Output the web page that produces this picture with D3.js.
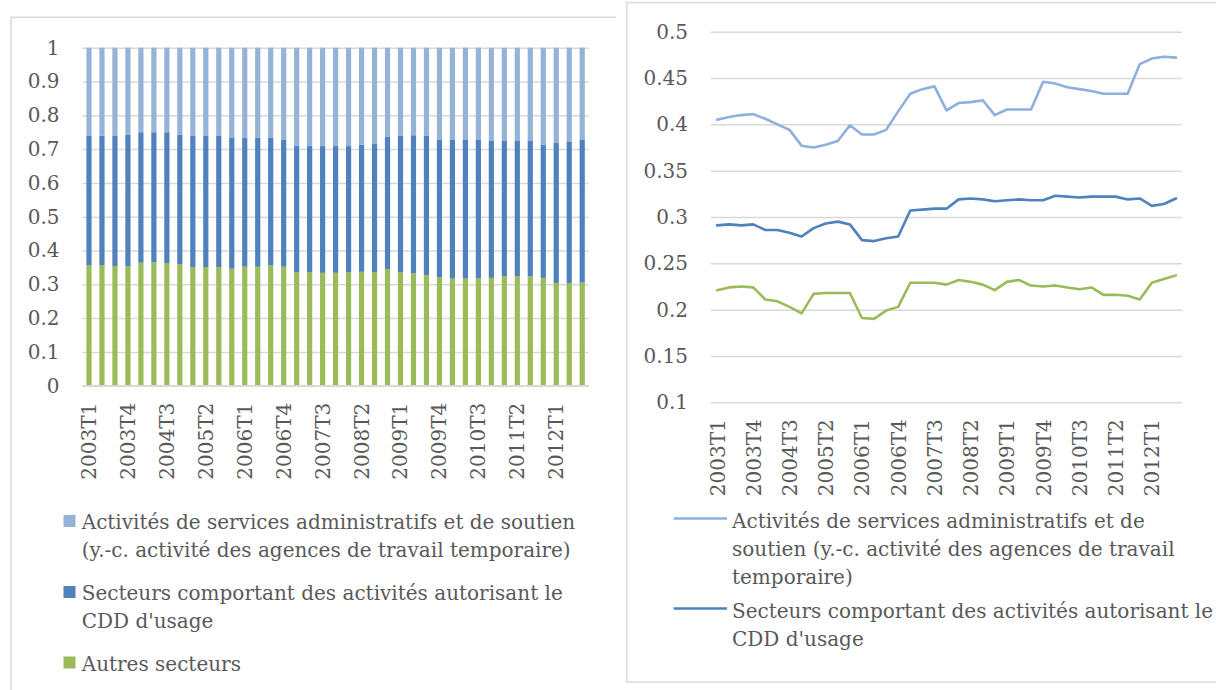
<!DOCTYPE html>
<html>
<head>
<meta charset="utf-8">
<script src="https://cdn.jsdelivr.net/npm/d3@7"></script>
<style>
  html, body { margin: 0; padding: 0; background: #fff; }
  svg { display: block; }
  text { font-family: "DejaVu Serif", "Liberation Serif", serif; fill: #595959; }
</style>
</head>
<body>
<svg id="chart" width="1216" height="690"></svg>
<script>
// ---------- DATA ----------
const quarters = [];
for (let y = 2003; y <= 2012; y++) for (let q = 1; q <= 4; q++) quarters.push(y + "T" + q);
const categories = quarters.slice(0, 39); // 2003T1 .. 2012T3

const tickLabels = ["2003T1","2003T4","2004T3","2005T2","2006T1","2006T4","2007T3","2008T2","2009T1","2009T4","2010T3","2011T2","2012T1"];

// Left chart: composition (shares summing to 1)
const barAutres = [0.356,0.356,0.354,0.353,0.364,0.365,0.363,0.359,0.351,0.351,0.351,0.346,0.352,0.352,0.356,0.352,0.336,0.336,0.334,0.334,0.336,0.337,0.336,0.345,0.335,0.332,0.327,0.320,0.317,0.317,0.317,0.319,0.324,0.324,0.323,0.319,0.304,0.304,0.305];
const barCumCDD = [0.739,0.739,0.739,0.742,0.750,0.750,0.750,0.742,0.739,0.739,0.739,0.733,0.733,0.733,0.733,0.727,0.709,0.709,0.709,0.709,0.709,0.713,0.715,0.736,0.739,0.741,0.739,0.727,0.727,0.727,0.727,0.724,0.724,0.724,0.724,0.712,0.718,0.721,0.727];
const barCDD = barCumCDD.map((v, i) => +(v - barAutres[i]).toFixed(3));
const barAdmin = barCumCDD.map(v => +(1 - v).toFixed(3));

// Right chart: lines
const lineAdmin = [0.405,0.408,0.410,0.411,0.406,0.400,0.394,0.377,0.375,0.378,0.382,0.399,0.389,0.389,0.394,0.414,0.433,0.438,0.441,0.415,0.423,0.424,0.426,0.410,0.416,0.416,0.416,0.446,0.444,0.440,0.438,0.436,0.433,0.433,0.433,0.465,0.471,0.473,0.472];
const lineCDD = [0.291,0.292,0.291,0.292,0.286,0.286,0.283,0.279,0.288,0.293,0.295,0.292,0.275,0.274,0.277,0.279,0.307,0.308,0.309,0.309,0.319,0.320,0.319,0.317,0.318,0.319,0.318,0.318,0.323,0.322,0.321,0.322,0.322,0.322,0.319,0.320,0.312,0.314,0.320];
const lineAutres = [0.221,0.224,0.225,0.224,0.211,0.209,0.203,0.196,0.217,0.218,0.218,0.218,0.191,0.190,0.199,0.203,0.229,0.229,0.229,0.227,0.232,0.230,0.227,0.221,0.230,0.232,0.226,0.225,0.226,0.224,0.222,0.224,0.216,0.216,0.215,0.211,0.229,0.233,0.237];

const leftTicks = [0, 0.1, 0.2, 0.3, 0.4, 0.5, 0.6, 0.7, 0.8, 0.9, 1];
const rightTicks = [0.1, 0.15, 0.2, 0.25, 0.3, 0.35, 0.4, 0.45, 0.5];

const seriesNames = [
  "Activités de services administratifs et de soutien (y.-c. activité des agences de travail temporaire)",
  "Secteurs comportant des activités autorisant le CDD d'usage",
  "Autres secteurs"
];
const leftLegendLines = [
  ["Activités de services administratifs et de soutien", "(y.-c. activité des agences de travail temporaire)"],
  ["Secteurs comportant des activités autorisant le", "CDD d'usage"],
  ["Autres secteurs"]
];
const rightLegendLines = [
  ["Activités de services administratifs et de", "soutien (y.-c. activité des agences de travail", "temporaire)"],
  ["Secteurs comportant des activités autorisant le", "CDD d'usage"]
];

// ---------- STYLE ----------
const colAdmin = "#95B3D7", colCDD = "#4F81BD", colAutres = "#9BBB59";
const lineColAdmin = "#8DB0DC";
const gridCol = "#D9D9D9";
const FS = 20;

const svg = d3.select("#chart");

// panel borders
svg.append("path").attr("d", "M11,690 L11,17.3 L615.7,17.3")
  .attr("fill", "none").attr("stroke", gridCol).attr("stroke-width", 1.5);
svg.append("path").attr("d", "M1216,2.5 L626.7,2.5 L626.7,682 L1216,682")
  .attr("fill", "none").attr("stroke", gridCol).attr("stroke-width", 1.5);

// ---------- LEFT CHART ----------
const L = { x0: 82.5, x1: 588.7, y0: 385.7, y1: 47.7 };
const xL = d3.scaleBand().domain(categories).range([L.x0, L.x1]).paddingInner(0.6).paddingOuter(0.3);
const yL = d3.scaleLinear().domain([0, 1]).range([L.y0, L.y1]);

const gL = svg.append("g");
const yAxisL = d3.axisLeft(yL).tickValues(leftTicks).tickFormat(d => String(d))
  .tickSize(-(L.x1 - L.x0)).tickPadding(23);
gL.append("g").attr("transform", `translate(${L.x0},0)`).call(yAxisL)
  .call(g => g.select(".domain").remove())
  .call(g => g.selectAll(".tick line").attr("stroke", gridCol).attr("stroke-width", 1.5))
  .call(g => g.selectAll(".tick text").style("font-size", FS + "px").attr("fill", "#595959"));

const stackData = categories.map((c, i) => ({ cat: c, autres: barAutres[i], cdd: barCDD[i], admin: barAdmin[i] }));
const stack = d3.stack().keys(["autres", "cdd", "admin"]);
const stacked = stack(stackData);
const colorsStack = { autres: colAutres, cdd: colCDD, admin: colAdmin };
gL.append("g").selectAll("g").data(stacked).join("g")
  .attr("fill", d => colorsStack[d.key])
  .selectAll("rect").data(d => d).join("rect")
  .attr("x", d => xL(d.data.cat))
  .attr("width", xL.bandwidth())
  .attr("y", d => yL(d[1]))
  .attr("height", d => yL(d[0]) - yL(d[1]));

// baseline
gL.append("line").attr("x1", L.x0).attr("x2", L.x1).attr("y1", yL(0)).attr("y2", yL(0))
  .attr("stroke", gridCol).attr("stroke-width", 1.5);

const xAxisL = d3.axisBottom(xL).tickValues(tickLabels).tickSize(0).tickPadding(0);
gL.append("g").attr("transform", `translate(0,${L.y0})`).call(xAxisL)
  .call(g => g.select(".domain").remove())
  .call(g => g.selectAll(".tick text")
    .style("font-size", FS + "px").attr("fill", "#595959")
    .attr("text-anchor", "end").attr("transform", "translate(0,17) rotate(-90)")
    .attr("x", 0).attr("y", 0).attr("dy", "0.35em"));

// left legend
const legL = svg.append("g");
const legLColors = [colAdmin, colCDD, colAutres];
const legLBase = [529, 600, 670.5];
leftLegendLines.forEach((lines, i) => {
  legL.append("rect").attr("x", 63.5).attr("y", legLBase[i] - 14).attr("width", 12).attr("height", 12)
    .attr("fill", legLColors[i]);
  const t = legL.append("text").attr("x", 81.7).attr("y", legLBase[i]).style("font-size", FS + "px");
  lines.forEach((ln, j) => t.append("tspan").attr("x", 81.7).attr("y", legLBase[i] + j * 27.5).text(ln));
});

// ---------- RIGHT CHART ----------
const R = { x0: 711, x1: 1182, y0: 402.3, y1: 31.7 };
const xR = d3.scalePoint().domain(categories).range([R.x0, R.x1]).padding(0.5);
const yR = d3.scaleLinear().domain([0.1, 0.5]).range([R.y0, R.y1]);
const gR = svg.append("g");
const yAxisR = d3.axisLeft(yR).tickValues(rightTicks).tickFormat(d => String(d))
  .tickSize(-(R.x1 - R.x0)).tickPadding(23);
gR.append("g").attr("transform", `translate(${R.x0},0)`).call(yAxisR)
  .call(g => g.select(".domain").remove())
  .call(g => g.selectAll(".tick line").attr("stroke", gridCol).attr("stroke-width", 1.5))
  .call(g => g.selectAll(".tick text").style("font-size", FS + "px").attr("fill", "#595959"));

const xAxisR = d3.axisBottom(xR).tickValues(tickLabels).tickSize(0).tickPadding(0);
gR.append("g").attr("transform", `translate(0,${R.y0})`).call(xAxisR)
  .call(g => g.select(".domain").remove())
  .call(g => g.selectAll(".tick text")
    .style("font-size", FS + "px").attr("fill", "#595959")
    .attr("text-anchor", "end").attr("transform", "translate(0,17) rotate(-90)")
    .attr("x", 0).attr("y", 0).attr("dy", "0.35em"));

const lineGen = d3.line().x((d, i) => xR(categories[i])).y(d => yR(d));
[[lineAutres, colAutres], [lineCDD, colCDD], [lineAdmin, lineColAdmin]].forEach(([arr, col]) => {
  gR.append("path").datum(arr).attr("d", lineGen)
    .attr("fill", "none").attr("stroke", col).attr("stroke-width", 2.6)
    .attr("stroke-linejoin", "round").attr("stroke-linecap", "round");
});

// right legend
const legR = svg.append("g");
const legRColors = [lineColAdmin, colCDD];
const legRBase = [528, 618];
rightLegendLines.forEach((lines, i) => {
  legR.append("line").attr("x1", 673.7).attr("x2", 727).attr("y1", legRBase[i] - 9.5).attr("y2", legRBase[i] - 9.5)
    .attr("stroke", legRColors[i]).attr("stroke-width", 2.6);
  const t = legR.append("text").attr("x", 732).attr("y", legRBase[i]).style("font-size", FS + "px");
  lines.forEach((ln, j) => t.append("tspan").attr("x", 732).attr("y", legRBase[i] + j * 28).text(ln));
});
</script>
</body>
</html>
